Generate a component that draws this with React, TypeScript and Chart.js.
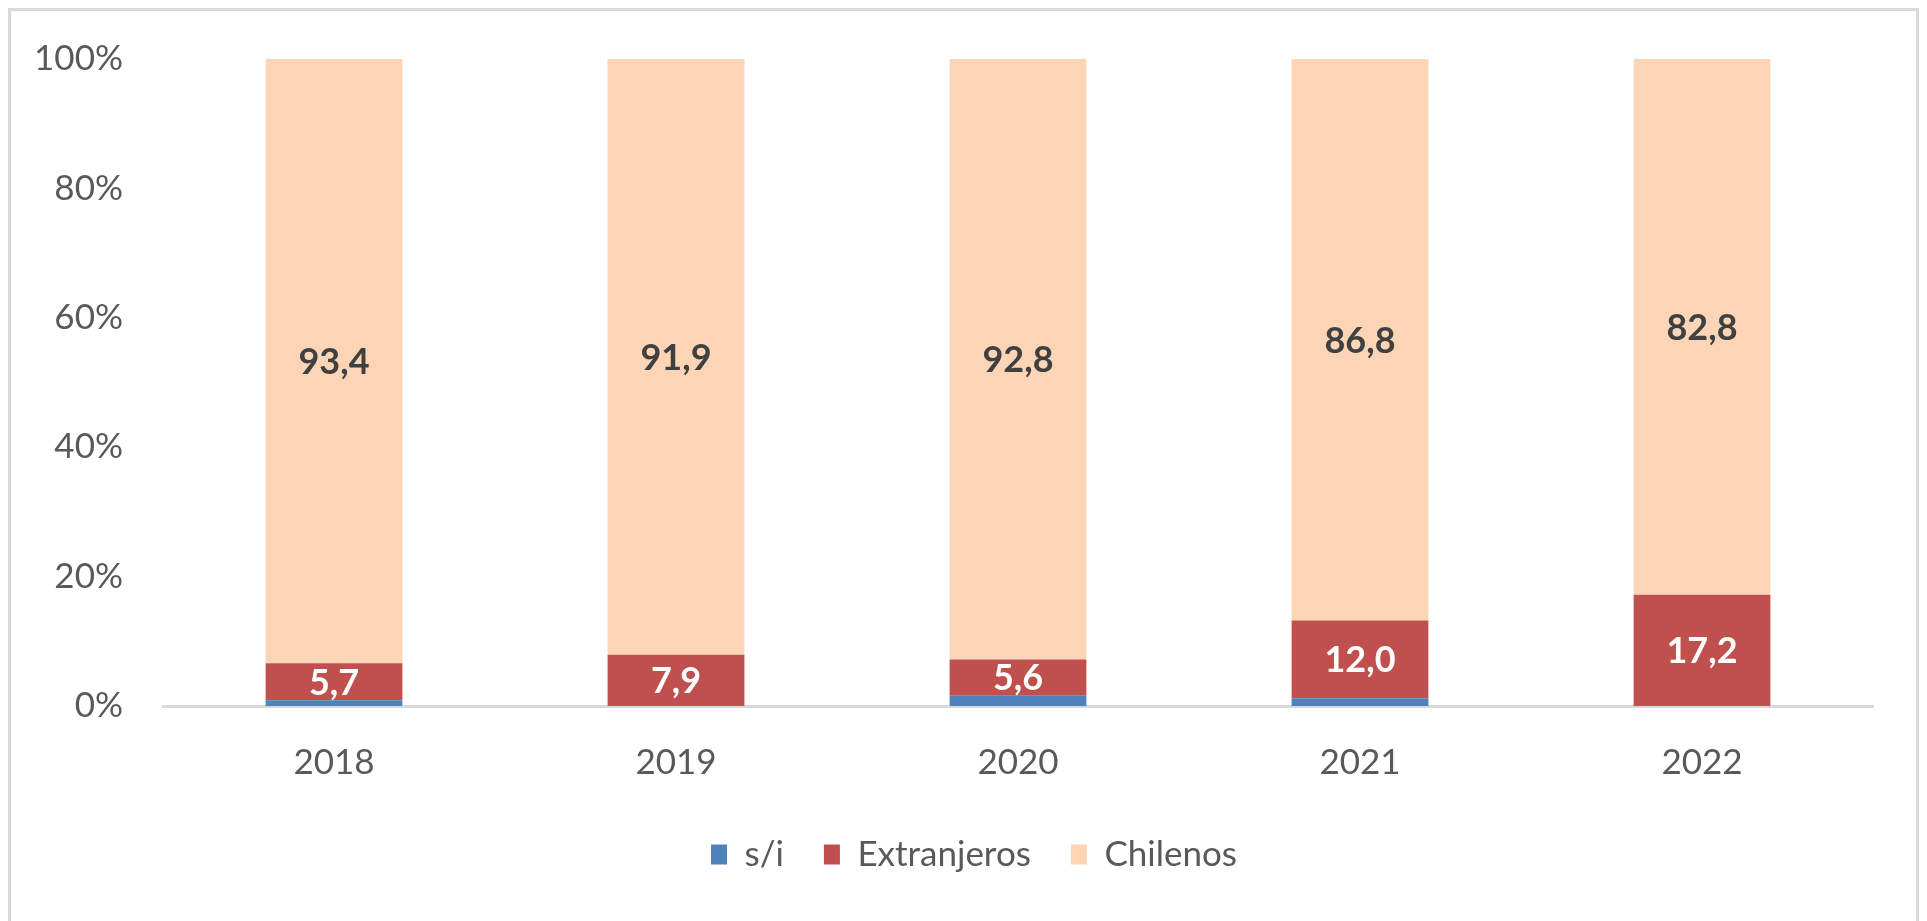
import { useEffect, useRef } from "react";
import { Chart, registerables } from "chart.js";

Chart.register(...registerables);

const categories = ["2018", "2019", "2020", "2021", "2022"];
const seriesNames = ["s/i", "Extranjeros", "Chilenos"];
const siValues = [0.9, 0, 1.6, 1.2, 0];
const extranjerosValues = [5.7, 7.9, 5.6, 12.0, 17.2];
const chilenosValues = [93.4, 91.9, 92.8, 86.8, 82.8];
const yTickValues = [0, 20, 40, 60, 80, 100];

const seriesColors = ["#4F81BD", "#C0504D", "#FBD5B5"];
const labelColors = [null, "#FFFFFF", "#404040"];

const FONT = "Lato, 'Open Sans', sans-serif";
const AXIS_COLOR = "#595959";
const TEXT_SIZE = 35;
const LABEL_SIZE = 36;

const rawSeries = [siValues, extranjerosValues, chilenosValues];
const totals = categories.map((_, i) => rawSeries.reduce((s, arr) => s + arr[i], 0));
const pct = (arr: number[]) => arr.map((v, i) => (v / totals[i]) * 100);

const segLabels = {
  id: "segLabels",
  afterDatasetsDraw(chart: any) {
    const ctx = chart.ctx;
    chart.data.datasets.forEach((_: any, di: number) => {
      const color = labelColors[di];
      if (!color) return;
      const meta = chart.getDatasetMeta(di);
      meta.data.forEach((el: any, i: number) => {
        const raw = rawSeries[di][i];
        if (!raw) return;
        const p = el.getProps(["x", "y", "base"], true);
        const cy = (p.y + p.base) / 2;
        ctx.save();
        ctx.font = `bold ${LABEL_SIZE}px ${FONT}`;
        ctx.fillStyle = color;
        ctx.textAlign = "center";
        ctx.textBaseline = "alphabetic";
        ctx.fillText(raw.toFixed(1).replace(".", ","), p.x, cy + (LABEL_SIZE * 0.72) / 2);
        ctx.restore();
      });
    });
  },
};

export default function App() {
  const ref = useRef<HTMLCanvasElement | null>(null);

  useEffect(() => {
    document.documentElement.style.overflow = "hidden";
    const canvas = ref.current;
    if (!canvas) return;
    const chart = new Chart(canvas, {
      type: "bar",
      data: {
        labels: categories,
        datasets: rawSeries.map((arr, di) => ({
          label: seriesNames[di],
          data: pct(arr),
          backgroundColor: seriesColors[di],
          borderWidth: 0,
          categoryPercentage: 1,
          barPercentage: 0.4,
        })),
      },
      options: {
        responsive: false,
        animation: false,
        devicePixelRatio: 1,
        layout: { padding: { left: 21, right: 0, top: 48, bottom: 43 } },
        plugins: {
          tooltip: { enabled: false },
          legend: {
            position: "bottom",
            labels: {
              color: AXIS_COLOR,
              font: { family: FONT, size: TEXT_SIZE },
              boxWidth: 16,
              boxHeight: 20,
              padding: 40,
            },
          },
        },
        scales: {
          x: {
            stacked: true,
            grid: { display: false, drawTicks: false },
            border: { display: true, color: "#D9D9D9", width: 3 },
            ticks: { color: AXIS_COLOR, font: { family: FONT, size: TEXT_SIZE }, padding: 36 },
            afterFit: (s: any) => {
              s.height = 91;
            },
          },
          y: {
            stacked: true,
            min: 0,
            max: 100,
            grid: { display: false, drawTicks: false },
            border: { display: false },
            ticks: {
              color: AXIS_COLOR,
              font: { family: FONT, size: TEXT_SIZE, lineHeight: 0.2 },
              padding: 40,
              callback: (v: any) => `${v}%`,
            },
            afterBuildTicks: (s: any) => {
              s.ticks = yTickValues.map((v) => ({ value: v }));
            },
            afterFit: (s: any) => {
              s.width = 131;
            },
          },
          yRight: {
            position: "right",
            display: true,
            grid: { display: false, drawTicks: false },
            border: { display: false },
            ticks: { display: false },
            afterFit: (s: any) => {
              s.width = 43;
            },
          },
        },
      },
      plugins: [segLabels],
    } as any);
    return () => chart.destroy();
  }, []);

  return (
    <div
      style={{
        border: "3px solid #D9D9D9",
        height: 920,
        boxSizing: "border-box",
        background: "#FFFFFF",
      }}
    >
      <canvas ref={ref} width={1905} height={914} style={{ display: "block" }} />
    </div>
  );
}
